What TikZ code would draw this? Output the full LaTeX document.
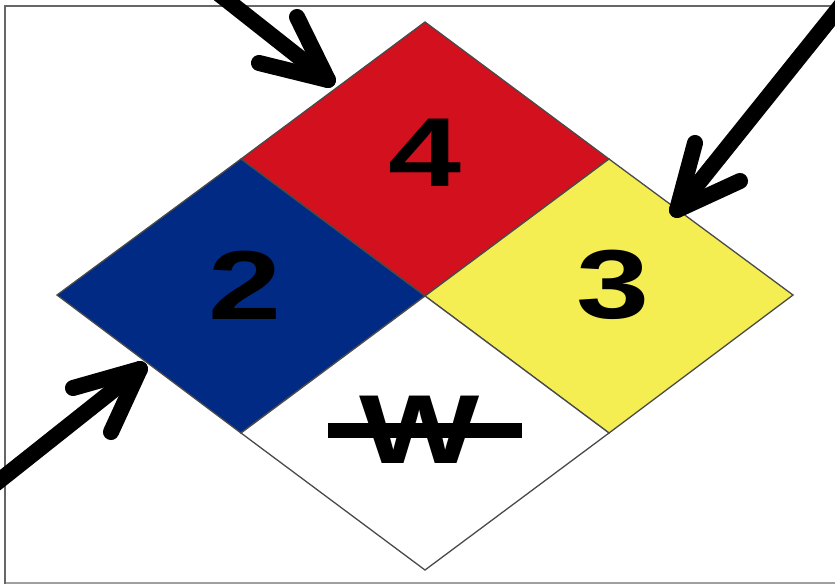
\documentclass[tikz,border=0pt]{standalone}
\usepackage{fontspec}
\setmainfont{Liberation Sans}
\definecolor{nfpared}{HTML}{D2101E}
\definecolor{nfpablue}{HTML}{002A84}
\definecolor{nfpayellow}{HTML}{F5EE52}
\definecolor{edgegray}{HTML}{4A4A4A}
\begin{document}
\begin{tikzpicture}[x=1pt,y=-1pt,
  quad/.style={draw=edgegray,line width=1.3pt,line join=miter},
  numtxt/.style={inner sep=0pt,font=\fontsize{98}{98}\selectfont\bfseries},
  arrowline/.style={line width=16pt,line cap=round,line join=round,black},
  shadowline/.style={line width=16pt,line cap=round,line join=round,black,opacity=0.18}]
\useasboundingbox (0,0) rectangle (835,584);
\clip (0,0) rectangle (835,584);
% frame
\draw[gray!75,line width=2pt] (5,583) -- (840,583);
\draw[gray!80!black,line width=2.5pt] (5,584) -- (5,6) -- (840,6);
% diamond coordinates
\coordinate (T) at (425,22);
\coordinate (L) at (57,295);
\coordinate (R) at (793,295);
\coordinate (B) at (425,570);
\coordinate (C) at (425,296);
\coordinate (TL) at (241,159);
\coordinate (TR) at (609,159);
\coordinate (BL) at (241,433);
\coordinate (BR) at (609,433);
% quadrants
\filldraw[quad,fill=nfpared] (T) -- (TR) -- (C) -- (TL) -- cycle;
\filldraw[quad,fill=nfpablue] (TL) -- (C) -- (BL) -- (L) -- cycle;
\filldraw[quad,fill=nfpayellow] (TR) -- (R) -- (BR) -- (C) -- cycle;
\filldraw[quad,fill=white] (C) -- (BR) -- (B) -- (BL) -- cycle;
% texts
\node[numtxt] (four) at (425,153) {\scalebox{1.34}[1]{4}};
\node[numtxt] (two) at (245,285) {\scalebox{1.34}[1]{2}};
\node[numtxt] (three) at (613,285) {\scalebox{1.34}[1]{3}};
\node[numtxt] (w) at (420,430) {\scalebox{1.30}[1]{W}};
\coordinate (wsL) at (328,430);
\coordinate (wsR) at (522,430);
\draw[line width=15pt] (wsL) -- (wsR);
% arrows
\coordinate (a1s) at (195,-25);
\coordinate (a1t) at (328,80);
\coordinate (a1b1) at (297,17);
\coordinate (a1b2) at (259,63);
\coordinate (a2s) at (855,-12);
\coordinate (a2t) at (677,210);
\coordinate (a2b1) at (695,143);
\coordinate (a2b2) at (740,181);
\coordinate (a3s) at (-25,500);
\coordinate (a3t) at (140,369);
\coordinate (a3b1) at (73,388);
\coordinate (a3b2) at (111,432);
\begin{scope}[shift={(2,3)}]
\draw[shadowline] (a1s) -- (a1t);
\draw[shadowline] (a1b1) -- (a1t) -- (a1b2);
\draw[shadowline] (a2s) -- (a2t);
\draw[shadowline] (a2b1) -- (a2t) -- (a2b2);
\draw[shadowline] (a3s) -- (a3t);
\draw[shadowline] (a3b1) -- (a3t) -- (a3b2);
\end{scope}
\draw[arrowline] (a1s) -- (a1t);
\draw[arrowline] (a1b1) -- (a1t) -- (a1b2);
\draw[arrowline] (a2s) -- (a2t);
\draw[arrowline] (a2b1) -- (a2t) -- (a2b2);
\draw[arrowline] (a3s) -- (a3t);
\draw[arrowline] (a3b1) -- (a3t) -- (a3b2);
\end{tikzpicture}
\end{document}
